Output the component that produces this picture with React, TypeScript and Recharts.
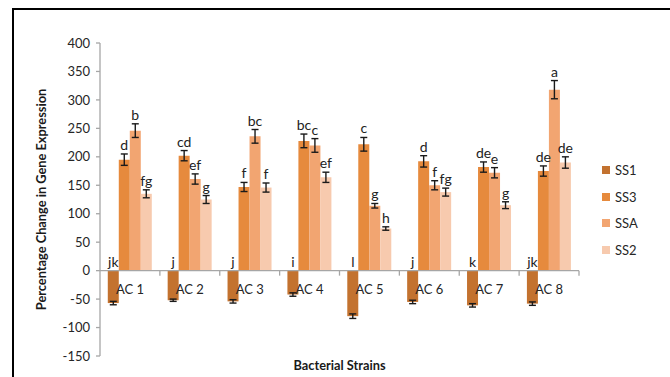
import React from "react";
import {
  BarChart,
  Bar,
  XAxis,
  YAxis,
  ErrorBar,
  LabelList,
  Legend,
  ReferenceLine,
} from "recharts";

const categories = ["AC 1", "AC 2", "AC 3", "AC 4", "AC 5", "AC 6", "AC 7", "AC 8"];

const ss1 = [-57, -52, -54, -42, -80, -55, -61, -58];
const ss3 = [195, 202, 147, 228, 222, 192, 182, 175];
const ssa = [246, 161, 236, 220, 114, 150, 172, 318];
const ss2 = [135, 125, 146, 164, 74, 138, 115, 190];

const ss1Err = [3, 2, 3, 3, 4, 3, 3, 3];
const ss3Err = [10, 9, 8, 12, 12, 10, 9, 9];
const ssaErr = [12, 9, 12, 12, 4, 8, 9, 16];
const ss2Err = [7, 7, 8, 9, 3, 7, 6, 10];

const ss1Letters = ["jk", "j", "j", "i", "l", "j", "k", "jk"];
const ss3Letters = ["d", "cd", "f", "bc", "c", "d", "de", "de"];
const ssaLetters = ["b", "ef", "bc", "c", "g", "f", "e", "a"];
const ss2Letters = ["fg", "g", "f", "ef", "h", "fg", "g", "de"];

const yTicks = [-150, -100, -50, 0, 50, 100, 150, 200, 250, 300, 350, 400];

const data = categories.map((name, i) => ({
  name,
  SS1: ss1[i],
  SS3: ss3[i],
  SSA: ssa[i],
  SS2: ss2[i],
  SS1err: ss1Err[i],
  SS3err: ss3Err[i],
  SSAerr: ssaErr[i],
  SS2err: ss2Err[i],
  SS1l: ss1Letters[i],
  SS3l: ss3Letters[i],
  SSAl: ssaLetters[i],
  SS2l: ss2Letters[i],
}));

const series = [
  { key: "SS1", color: "#C3722F", errs: ss1Err },
  { key: "SS3", color: "#E68A3D", errs: ss3Err },
  { key: "SSA", color: "#F2A571", errs: ssaErr },
  { key: "SS2", color: "#F7CAAE", errs: ss2Err },
];

const W = 670;
const H = 377;
const margin = { top: 43, right: 91, bottom: 0, left: 40 };
const xAxisH = 21;
const plotTop = margin.top;
const plotH = H - margin.top - margin.bottom - xAxisH;
const pxPerUnit = plotH / 550;
const zeroY = plotTop + 400 * pxPerUnit;
const band = (W - margin.left - 60 - margin.right) / categories.length;

const font = "Lato, 'Open Sans', sans-serif";

function makeLetterLabel(errs: number[]) {
  return (props: any) => {
    const { x, y, width, height, value, index } = props;
    const top = Math.min(y, y + height);
    const cx = x + width / 2;
    let ty: number;
    if (top >= zeroY - 0.5) {
      // negative bar: the letter sits just above the zero line
      ty = zeroY - 4;
    } else {
      ty = top - errs[index] * pxPerUnit - 4;
    }
    return (
      <text x={cx} y={ty} textAnchor="middle" fontSize={14} fontFamily={font} fill="#222">
        {value}
      </text>
    );
  };
}

const XTick = (props: any) => {
  const { x, payload } = props;
  return (
    <g>
      <line x1={x + band / 2} x2={x + band / 2} y1={zeroY} y2={zeroY + 5} stroke="#A6A6A6" strokeWidth={1.3} />
      <text x={x} y={zeroY + 23} textAnchor="middle" fontSize={13} fontFamily={font} fill="#262626">
        {payload.value}
      </text>
    </g>
  );
};

const YLabel = (props: any) => {
  const { viewBox } = props;
  const cy = viewBox.y + viewBox.height / 2;
  return (
    <text
      x={46}
      y={cy}
      transform={`rotate(-90, 46, ${cy})`}
      textAnchor="middle"
      fontSize={12.8}
      fontWeight="bold"
      fontFamily={font}
      fill="#1a1a1a"
    >
      Percentage Change in Gene Expression
    </text>
  );
};

const XLabel = (props: any) => {
  const { viewBox } = props;
  const cx = viewBox.x + viewBox.width / 2;
  return (
    <text x={cx} y={370} textAnchor="middle" fontSize={12.8} fontWeight="bold" fontFamily={font} fill="#1a1a1a">
      Bacterial Strains
    </text>
  );
};

const LegendBox = () => (
  <div style={{ fontFamily: font, fontSize: 13, color: "#262626" }}>
    {series.map((s) => (
      <div key={s.key} style={{ display: "flex", alignItems: "center", height: 26.5 }}>
        <div style={{ width: 8, height: 8, background: s.color, marginRight: 5 }} />
        <span>{s.key}</span>
      </div>
    ))}
  </div>
);

export default function App() {
  return (
    <div style={{ position: "absolute", left: 0, top: 0, width: W, height: H, background: "#fff", overflow: "hidden" }}>
      <div
        style={{
          position: "absolute",
          left: 12,
          top: 8,
          width: 720,
          height: 420,
          borderLeft: "2px solid #000",
          borderTop: "2px solid #000",
        }}
      />
      <div style={{ position: "absolute", left: 0, top: 0 }}>
        <BarChart width={W} height={H} data={data} margin={margin} barCategoryGap="13%" barGap={0}>
          <XAxis
            dataKey="name"
            height={xAxisH}
            axisLine={false}
            tickLine={false}
            tick={<XTick />}
            interval={0}
            label={<XLabel />}
          />
          <YAxis
            width={60}
            domain={[-150, 400]}
            ticks={yTicks}
            interval={0}
            axisLine={{ stroke: "#A6A6A6", strokeWidth: 1.3 }}
            tickLine={{ stroke: "#A6A6A6", strokeWidth: 1.3 }}
            tickSize={4}
            tickMargin={6}
            tick={{ fontSize: 13, fontFamily: font, fill: "#262626" }}
            label={<YLabel />}
          />
          <ReferenceLine y={0} stroke="#A6A6A6" strokeWidth={1.3} />
          <Legend
            layout="vertical"
            align="center"
            verticalAlign="middle"
            content={<LegendBox />}
            wrapperStyle={{ position: "absolute", left: 602, top: 157, width: 60 }}
          />
          {series.map((s) => (
            <Bar key={s.key} dataKey={s.key} fill={s.color} isAnimationActive={false}>
              <ErrorBar dataKey={`${s.key}err`} width={3.5} stroke="#1a1a1a" strokeWidth={1.4} />
              <LabelList dataKey={`${s.key}l`} content={makeLetterLabel(s.errs)} />
            </Bar>
          ))}
        </BarChart>
      </div>
    </div>
  );
}
